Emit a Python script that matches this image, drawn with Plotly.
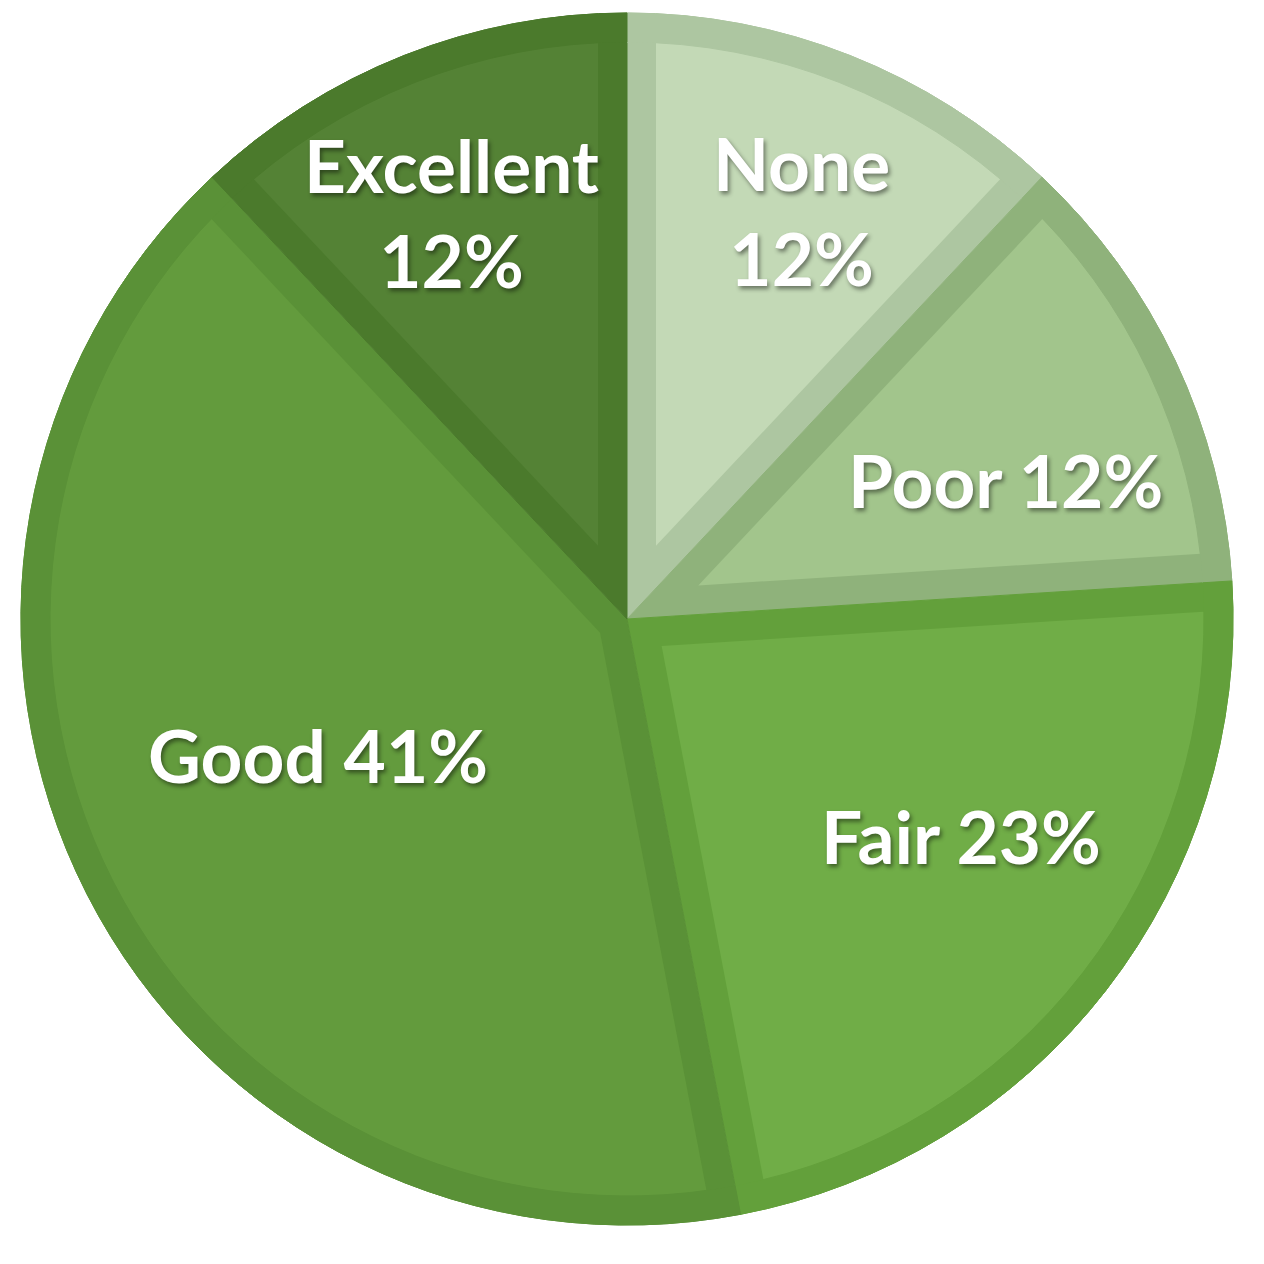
import math
import plotly.graph_objects as go

# ---- data ----
labels = ["None", "Poor", "Fair", "Good", "Excellent"]
values = [12, 12, 23, 41, 12]

# ---- style ----
fill_colors = ["#c3d9b6", "#a2c58c", "#70ad47", "#639b3d", "#548235"]
edge_colors = ["#adc6a1", "#8fb27b", "#63a03b", "#5a9137", "#4b7a2c"]
label_breaks = ["<br>", " ", " ", " ", "<br>"]
label_angle = [23.2, 69.8, 123.0, 246.3, 336.6]   # degrees clockwise from 12 o'clock
label_frac = [0.733, 0.665, 0.657, 0.557, 0.731]  # fraction of radius

W = H = 1264
CX, CY, R = 627, 619, 606
BORDER = 29
REACH = R - 4


def dom(cx, cy, r):
    return dict(x=[(cx - r) / W, (cx + r) / W],
                y=[1 - (cy + r) / H, 1 - (cy - r) / H])


n = len(values)
total = sum(values)
common = dict(labels=labels, values=values, sort=False, direction="clockwise",
              rotation=0, textinfo="none", showlegend=False)

fig = go.Figure()
# base: full pie in border colours
fig.add_trace(go.Pie(**common,
                     marker=dict(colors=edge_colors, line=dict(width=1, color=edge_colors)),
                     domain=dom(CX, CY, R), hoverinfo="label+percent"))
# inset fills: each slice pulled so that its sides sit BORDER px inside
for i, v in enumerate(values):
    theta = 2 * math.pi * v / total
    p = BORDER / math.sin(theta / 2)
    r = REACH - p
    pull = [0.0] * n
    pull[i] = p / r
    cols = ["rgba(0,0,0,0)"] * n
    cols[i] = fill_colors[i]
    fig.add_trace(go.Pie(**common, pull=pull,
                         marker=dict(colors=cols, line=dict(width=0)),
                         domain=dom(CX, CY, REACH), hoverinfo="skip"))
# outer ring in border colours
fig.add_trace(go.Pie(**common, hole=(R - BORDER) / R,
                     marker=dict(colors=edge_colors, line=dict(width=1, color=edge_colors)),
                     domain=dom(CX, CY, R), hoverinfo="skip"))

for i in range(n):
    a = math.radians(label_angle[i])
    x = CX + label_frac[i] * R * math.sin(a)
    y = CY - label_frac[i] * R * math.cos(a)
    fig.add_annotation(x=x / W, y=1 - y / H, xref="paper", yref="paper",
                       text=f"{labels[i]}{label_breaks[i]}{values[i]}%",
                       showarrow=False, xanchor="center", yanchor="middle",
                       font=dict(family="Lato", size=73, color="white", weight=700,
                                 shadow="2px 3px 4px rgba(0,0,0,0.45)"))

fig.update_layout(width=W, height=H, margin=dict(l=0, r=0, t=0, b=0),
                  paper_bgcolor="white", plot_bgcolor="white", showlegend=False)

fig.write_html("out.html", config={"displayModeBar": False},
               post_script="document.body.style.margin='0';document.body.style.overflow='hidden';")
